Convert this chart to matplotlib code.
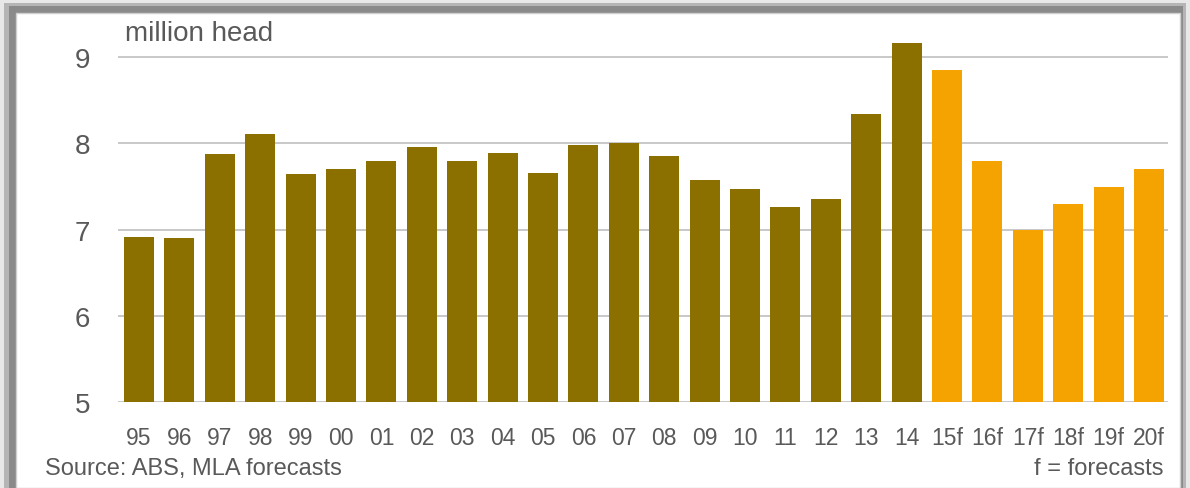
import matplotlib
matplotlib.use("Agg")
import matplotlib.pyplot as plt
from matplotlib.patches import Rectangle

categories = ["95", "96", "97", "98", "99", "00", "01", "02", "03", "04", "05", "06", "07",
              "08", "09", "10", "11", "12", "13", "14", "15f", "16f", "17f", "18f", "19f", "20f"]
values = [6.92, 6.90, 7.88, 8.11, 7.65, 7.70, 7.80, 7.96, 7.80, 7.89, 7.66, 7.98, 8.00,
          7.85, 7.58, 7.47, 7.26, 7.36, 8.34, 9.16, 8.85, 7.80, 7.00, 7.30, 7.50, 7.70]
is_forecast = [c.endswith("f") for c in categories]
yticks = [5, 6, 7, 8, 9]

ACTUAL = "#8b7000"
FORECAST = "#f5a300"
TEXT = "#595959"

plt.rcParams['font.family'] = ['Liberation Sans', 'DejaVu Sans']

fig = plt.figure(figsize=(11.9, 4.89), dpi=100)
fig.patch.set_facecolor("white")

# frame with shadow
fig.add_artist(Rectangle((0.0, 0.0), 1.0, 1.0, transform=fig.transFigure,
                         facecolor="#e8e8e8", edgecolor="none", zorder=-4))
fig.add_artist(Rectangle((4/1190, 0.0), (1186-4)/1190, (489-4)/489, transform=fig.transFigure,
                         facecolor="#b5b5b5", edgecolor="none", zorder=-3))
fig.add_artist(Rectangle((9/1190, 0.0), (1183-9)/1190, (489-7)/489, transform=fig.transFigure,
                         facecolor="#8a8a8a", edgecolor="none", zorder=-2))
fig.add_artist(Rectangle((16/1190, 0.0), (1180-16)/1190, (478-3)/489, transform=fig.transFigure,
                         facecolor="white", edgecolor="#cfcfcf", lw=1, zorder=-1))

ax = fig.add_axes([118/1190, 86/489, (1168-118)/1190, (403-41)/489])
ax.set_facecolor("none")
x = list(range(len(categories)))
colors = [FORECAST if f else ACTUAL for f in is_forecast]
ax.bar(x, [v - 5 for v in values], bottom=5, width=0.74, color=colors, zorder=3)

ax.set_xlim(-0.52, len(categories) - 0.53)
ax.set_ylim(5, 9.2)
ax.set_yticks(yticks)
ax.set_yticklabels([str(t) for t in yticks], fontsize=20, color=TEXT)
ax.set_xticks(x)
ax.set_xticklabels(categories, fontsize=16.5, color=TEXT)
ax.tick_params(axis="both", length=0)
ax.tick_params(axis="y", pad=20)
ax.tick_params(axis="x", pad=17)
ax.grid(axis="y", color="#c4c4c4", lw=1.3, zorder=0)
for s in ax.spines.values():
    s.set_visible(False)

fig.text(125/1190, 1 - 34/489, "million head", fontsize=20, color=TEXT, va="center", ha="left")
fig.text(45/1190, 1 - 469/489, "Source: ABS, MLA forecasts", fontsize=17, color=TEXT, va="center", ha="left")
fig.text(1163/1190, 1 - 469/489, "f = forecasts", fontsize=17, color=TEXT, va="center", ha="right")

fig.savefig("out.png", dpi=100)
